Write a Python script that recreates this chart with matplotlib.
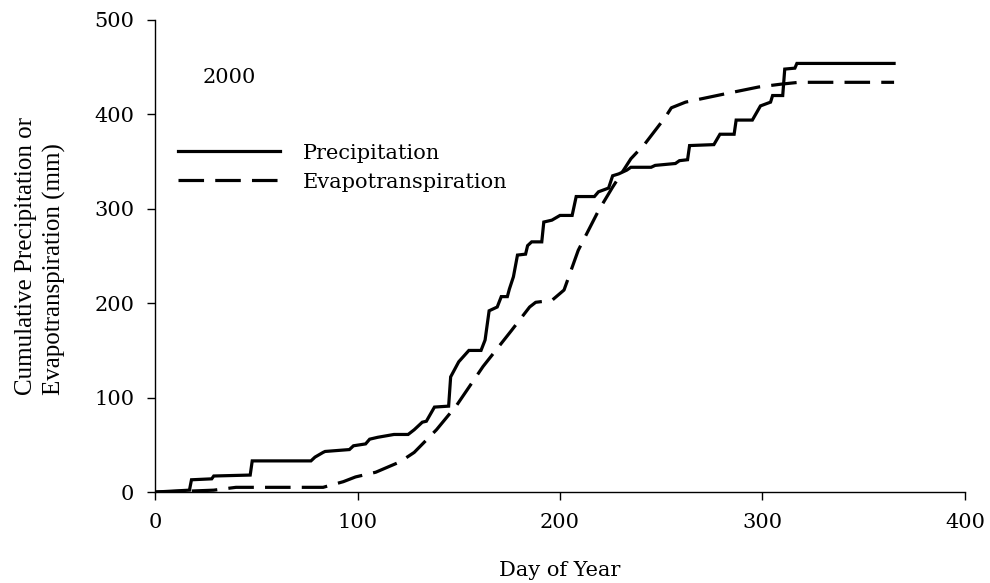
import numpy as np
import matplotlib
matplotlib.use('Agg')
import matplotlib.pyplot as plt

# Cumulative precipitation (day of year, mm) - vertices
precip_day = [0, 17, 18, 28, 29, 47, 48, 77, 79, 83, 84, 96, 98, 104, 106, 110, 118, 125,
              128, 132, 134, 138, 145, 146, 150, 155, 161, 163, 165, 169, 171, 174, 175, 177,
              179, 183, 184, 186, 191, 192, 196, 200, 206, 208, 217, 219, 224, 226, 229, 233,
              235, 245, 247, 257, 259, 263, 264, 276, 279, 286, 287, 295, 299, 304, 305, 310,
              311, 316, 317, 365]
precip_mm = [0, 2, 13, 14, 17, 18, 33, 33, 37, 42, 43, 45, 49, 51, 56, 58, 61, 61,
             66, 74, 75, 90, 91, 122, 138, 150, 150, 161, 192, 196, 207, 207, 215, 228,
             251, 252, 261, 265, 265, 286, 288, 293, 293, 313, 313, 318, 322, 335, 337, 341,
             344, 344, 346, 348, 351, 352, 367, 368, 379, 379, 394, 394, 409, 413, 420, 420,
             448, 449, 454, 454]

# Cumulative evapotranspiration (day of year, mm)
et_day = [0, 17, 29, 40, 83, 93, 99, 109, 121, 128, 139, 149, 162, 176, 185, 188, 196,
          202, 204, 209, 219, 226, 235, 242, 252, 255, 262, 282, 298, 309, 318, 365]
et_mm = [0, 1, 2, 5, 5, 11, 16, 21, 32, 42, 66, 92, 133, 171, 196, 201, 203,
         214, 226, 256, 298, 323, 353, 369, 397, 407, 413, 422, 429, 432, 434, 434]

year_label = "2000"

plt.rcParams['font.family'] = ['DejaVu Serif']

fig = plt.figure(figsize=(9.9, 5.83), dpi=100)
ax = fig.add_axes([0.1566, 0.156, 0.8181, 0.8097])

ax.plot(precip_day, precip_mm, color='black', lw=2.3, solid_joinstyle='miter',
        label='Precipitation')
ax.plot(et_day, et_mm, color='black', lw=2.3, dashes=(8, 3.5),
        label='Evapotranspiration')

ax.set_xlim(0, 400)
ax.set_ylim(0, 500)
ax.set_xticks([0, 100, 200, 300, 400])
ax.set_yticks([0, 100, 200, 300, 400, 500])
for s in ['top', 'right']:
    ax.spines[s].set_visible(False)
for s in ['left', 'bottom']:
    ax.spines[s].set_linewidth(1.0)
ax.tick_params(direction='out', length=6, width=1.0, labelsize=15)
ax.tick_params(axis='x', pad=9)
ax.tick_params(axis='y', pad=9)

ax.set_xlabel('Day of Year', fontsize=15, labelpad=21)
ax.set_ylabel('Cumulative Precipitation or\nEvapotranspiration (mm)', fontsize=18,
              family='Liberation Serif', labelpad=20, linespacing=1.35,
              multialignment='left')

ax.text(0.059, 0.866, year_label, transform=ax.transAxes, fontsize=15)

ax.legend(loc='upper left', bbox_to_anchor=(0.028, 0.738), frameon=False, fontsize=15,
          handlelength=4.9, handletextpad=1.1, labelspacing=0.48, borderaxespad=0,
          borderpad=0)

fig.savefig('out.png', dpi=100, facecolor='white')
